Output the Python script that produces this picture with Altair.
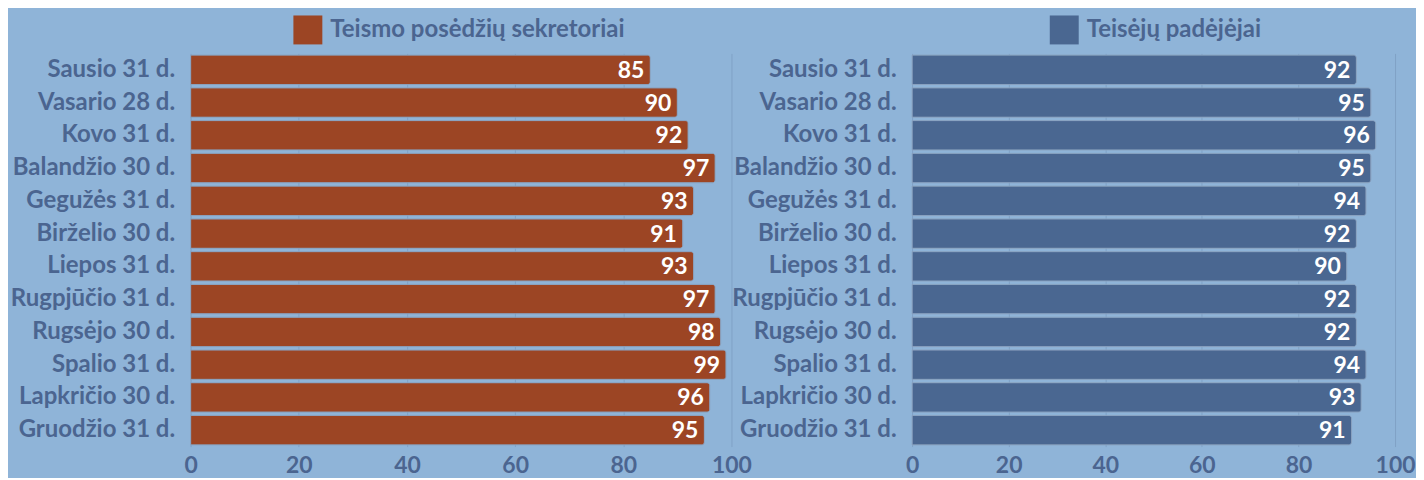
import altair as alt
import pandas as pd

months = ["Sausio 31 d.", "Vasario 28 d.", "Kovo 31 d.", "Balandžio 30 d.",
          "Gegužės 31 d.", "Birželio 30 d.", "Liepos 31 d.", "Rugpjūčio 31 d.",
          "Rugsėjo 30 d.", "Spalio 31 d.", "Lapkričio 30 d.", "Gruodžio 31 d."]
sekretoriai = [85, 90, 92, 97, 93, 91, 93, 97, 98, 99, 96, 95]
padejejai = [92, 95, 96, 95, 94, 92, 90, 92, 92, 94, 93, 91]
series_names = ["Teismo posėdžių sekretoriai", "Teisėjų padėjėjai"]
colors = ["#9c4524", "#4a6791"]
ticks = [0, 20, 40, 60, 80, 100]

FONT = "Lato"
TXT = "#4b6590"
BG = "#8fb4d8"


def panel(values, name, color, width, legend_x):
    df = pd.DataFrame({"month": months, "value": values, "series": name})
    base = alt.Chart(df).encode(
        y=alt.Y("month:N", sort=months, title=None,
                scale=alt.Scale(paddingInner=0.1, paddingOuter=0.05),
                axis=alt.Axis(labelFont=FONT, labelFontSize=24, labelFontWeight="bold",
                              labelColor=TXT, labelPadding=16, ticks=False, domain=False,
                              grid=False, labelLimit=300)),
        x=alt.X("value:Q", scale=alt.Scale(domain=[0, 100]), title=None,
                axis=alt.Axis(values=ticks, labelFont=FONT, labelFontSize=23,
                              labelFontWeight="bold", labelColor=TXT, labelPadding=8,
                              ticks=False, domain=False, grid=True,
                              gridColor="#7fa2c6", gridWidth=1, labelFlush=False)),
    )
    bars = base.mark_bar(cornerRadiusEnd=3, stroke="#8aa2bf", strokeWidth=0.8).encode(
        color=alt.Color("series:N", scale=alt.Scale(domain=[name], range=[color]),
                        legend=alt.Legend(orient="none", legendX=legend_x, legendY=-38,
                                          title=None, symbolType="square", symbolSize=841,
                                          symbolStrokeWidth=0, labelFont=FONT,
                                          labelFontSize=24, labelFontWeight="bold",
                                          labelColor=TXT, labelOffset=8, labelLimit=400)))
    text = base.mark_text(align="right", baseline="middle", dx=-6, dy=1, color="white",
                          font=FONT, fontWeight="bold", fontSize=23).encode(text="value:Q")
    return alt.layer(bars, text).properties(width=width, height=394)


left = panel(sekretoriai, series_names[0], colors[0], 542, 103)
right = panel(padejejai, series_names[1], colors[1], 484, 138)

chart = alt.hconcat(left, right, spacing=181, bounds="flush").resolve_scale(
    color="independent").resolve_legend(color="independent").properties(
    background=BG, padding={"left": 2, "top": 7, "right": 0, "bottom": 0}
).configure_view(stroke=None)

chart.save("out.html", embed_options={"renderer": "svg", "actions": False})
